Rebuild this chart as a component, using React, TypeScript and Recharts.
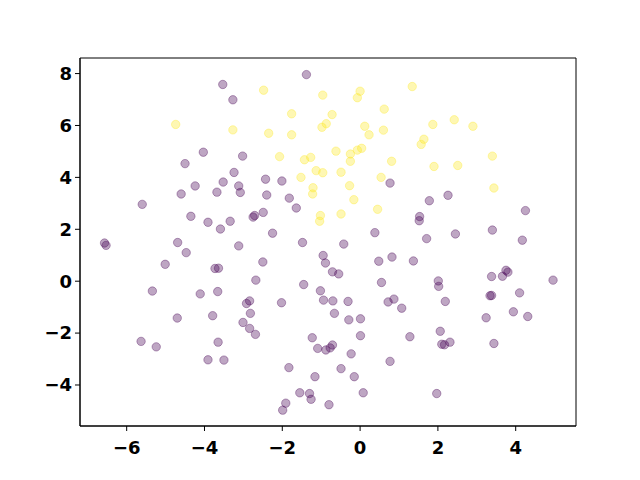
import React from 'react';
import { ScatterChart, Scatter, XAxis, YAxis, ReferenceArea } from 'recharts';

// cluster 0 (dark purple) and cluster 1 (yellow)
const purpleX = [
  -3.53, -3.27, -4.03, -3.02, -4.5, -3.24, -3.52, -4.24, -3.12, -3.68,
  -3.08, -4.6, -5.6, -4.35, -3.91, -3.34, -3.59, -2.75, -2.71, -6.57,
  -6.53, -4.69, -3.12, -1.38, -2.43, -2.01, 0.77, -2.4, -1.82, -1.64,
  -2.49, -2.25, 0.38, -1.48, -0.42, 2.26, 1.78, 1.53, 1.52, 4.25,
  1.71, 2.45, 3.4, 4.17, -4.47, -5.01, -3.73, -3.64, -5.34, -4.11,
  -3.66, -2.92, -2.84, -2.82, -4.7, -3.79, -3.01, -2.84, -2.69, -5.63,
  -5.24, -3.65, -3.91, -3.5, -0.95, -0.89, -2.5, -0.71, -0.55, 0.48,
  0.82, 1.37, -2.68, -1.45, 0.55, -1.02, -0.94, -0.7, -0.31, 0.72,
  0.87, 1.07, -2.02, -0.66, -0.29, 0.01, 0.01, 1.28, -1.23, -1.09,
  -0.88, -0.77, -0.71, -0.23, -1.83, -0.49, 0.77, -1.16, -0.15, -1.55,
  -1.3, -1.26, 0.08, -1.91, -1.99, -0.8, 2.01, 2.02, 2.19, 3.38,
  3.66, 3.75, 3.8, 4.96, 3.38, 3.34, 4.1, 3.94, 4.31, 3.24,
  2.06, 2.1, 2.17, 2.31, 3.44, 1.97,
];
const purpleY = [
  7.58, 6.99, 4.97, 4.82, 4.53, 4.19, 3.82, 3.67, 3.67, 3.43,
  3.42, 3.36, 2.96, 2.5, 2.27, 2.31, 2.01, 2.47, 2.53, 1.47,
  1.38, 1.49, 1.36, 7.96, 3.93, 3.86, 3.78, 3.32, 3.2, 2.82,
  2.65, 1.85, 1.87, 1.49, 1.43, 3.31, 3.1, 2.49, 2.33, 2.72,
  1.64, 1.82, 1.97, 1.58, 1.1, 0.65, 0.49, 0.5, -0.38, -0.49,
  -0.4, -0.86, -0.76, -1.24, -1.42, -1.33, -1.59, -1.82, -2.05, -2.32,
  -2.53, -2.35, -3.03, -3.04, 0.99, 0.7, 0.74, 0.36, 0.28, 0.77,
  0.93, 0.78, 0.04, -0.13, -0.05, -0.37, -0.73, -0.76, -0.78, -0.8,
  -0.69, -1.04, -0.83, -1.24, -1.49, -1.45, -2.1, -2.14, -2.18, -2.59,
  -2.65, -2.57, -2.46, -2.8, -3.33, -3.37, -3.09, -3.68, -3.68, -4.3,
  -4.33, -4.55, -4.3, -4.7, -4.97, -4.76, 0.01, -0.2, -0.78, 0.18,
  0.19, 0.42, 0.35, 0.04, -0.55, -0.56, -0.45, -1.18, -1.36, -1.41,
  -1.93, -2.43, -2.45, -2.35, -2.4, -4.33,
];
const yellowX = [
  -4.74, -3.27, -2.48, -0.96, 0.0, -0.07, 1.34, -1.76, -0.72, 0.62,
  -0.87, -0.98, 0.12, 0.23, 0.6, -2.35, -1.76, -2.07, -0.62, -0.25,
  -0.07, 0.04, -1.43, -1.27, -0.25, 0.81, -1.13, -0.96, -0.49, -1.52,
  0.54, -1.21, -1.22, -0.27, -0.16, 0.45, -1.02, -1.04, -0.49, 1.87,
  2.42, 2.9, 1.64, 1.57, 3.4, 1.9, 2.51, 3.44,
];
const yellowY = [
  6.04, 5.83, 7.36, 7.17, 7.32, 7.07, 7.5, 6.45, 6.42, 6.63,
  6.07, 5.93, 5.97, 5.64, 5.82, 5.7, 5.64, 4.8, 5.01, 4.9,
  5.05, 5.12, 4.68, 4.77, 4.62, 4.62, 4.26, 4.18, 4.2, 4.0,
  4.0, 3.6, 3.36, 3.68, 3.14, 2.77, 2.53, 2.31, 2.59, 6.04,
  6.22, 5.97, 5.47, 5.27, 4.82, 4.42, 4.46, 3.59,
];
const xTicks = [-6, -4, -2, 0, 2, 4];
const yTicks = [-4, -2, 0, 2, 4, 6, 8];

const X_DOMAIN: [number, number] = [-7.2, 5.55];
const Y_DOMAIN: [number, number] = [-5.58, 8.6];

const toPoints = (xs: number[], ys: number[]) => xs.map((x, i) => ({ x, y: ys[i] }));
const purple = toPoints(purpleX, purpleY);
const yellow = toPoints(yellowX, yellowY);

const fmt = (v: number) => (v < 0 ? '\u2212' + Math.abs(v) : String(v));

const dot = (color: string) => (props: any) => (
  <circle
    cx={props.cx}
    cy={props.cy}
    r={4.2}
    fill={color}
    fillOpacity={0.35}
    stroke={color}
    strokeOpacity={0.35}
    strokeWidth={1}
  />
);

const tickStyle = { fill: '#000', fontSize: 18, fontWeight: 700, fontFamily: 'DejaVu Sans' };

export default function App() {
  return (
    <div style={{ position: 'absolute', left: 0, top: 0, width: 640, height: 480, background: '#fff' }}>
      <ScatterChart width={640} height={480} margin={{ top: 58, right: 64, bottom: 0, left: 0 }}>
        <XAxis
          type="number"
          dataKey="x"
          domain={X_DOMAIN}
          ticks={xTicks}
          tickFormatter={fmt}
          allowDataOverflow
          height={54}
          tick={tickStyle}
          tickSize={5}
          tickMargin={10}
          stroke="#000"
        />
        <YAxis
          type="number"
          dataKey="y"
          domain={Y_DOMAIN}
          ticks={yTicks}
          tickFormatter={fmt}
          allowDataOverflow
          width={80}
          tick={tickStyle}
          tickSize={5}
          tickMargin={3}
          stroke="#000"
        />
        <ReferenceArea x1={X_DOMAIN[0]} x2={X_DOMAIN[1]} y1={Y_DOMAIN[0]} y2={Y_DOMAIN[1]} fill="none" stroke="#000" strokeWidth={1} />
        <Scatter data={purple} shape={dot('#440154')} isAnimationActive={false} />
        <Scatter data={yellow} shape={dot('#fde725')} isAnimationActive={false} />
      </ScatterChart>
    </div>
  );
}
